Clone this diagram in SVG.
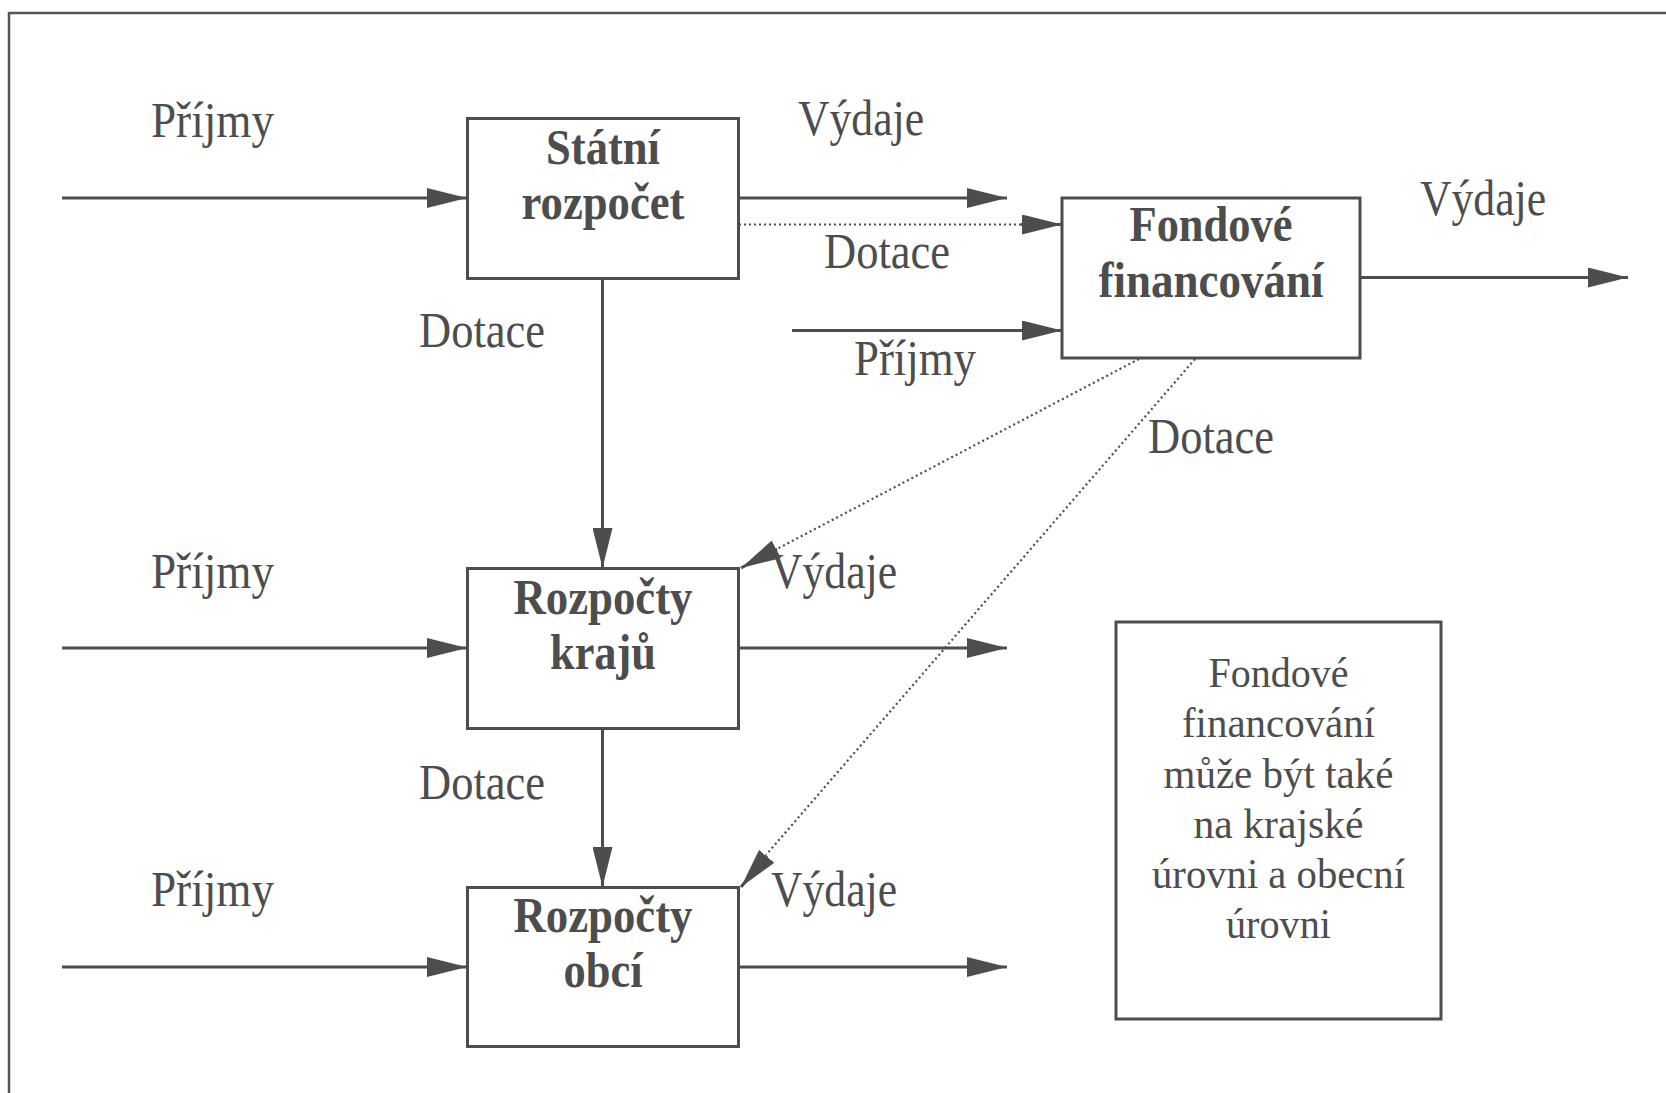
<svg xmlns="http://www.w3.org/2000/svg" width="1666" height="1093" viewBox="0 0 1666 1093">
<style>
.box{fill:#fff;stroke:#4d4d4d;stroke-width:3}
.ln{stroke:#4d4d4d;stroke-width:3;fill:none}
.dot{stroke:#4d4d4d;stroke-width:2.2;fill:none;stroke-dasharray:2 3}
.t{font-family:"Liberation Serif","Times New Roman",serif;fill:#4d4d4d}
.lab{font-size:50px}
.bold{font-size:50px;font-weight:bold;text-anchor:middle}
.note{font-size:42px;text-anchor:middle}
</style>
<defs>
<marker id="ah" markerUnits="userSpaceOnUse" markerWidth="40" markerHeight="20" refX="40" refY="10" orient="auto">
<path d="M0,0 L40,10 L0,20 z" fill="#4d4d4d"/>
</marker>
</defs>
<rect x="0" y="0" width="1666" height="1093" fill="#fff"/>
<path d="M9,1093 V13 H1666" fill="none" stroke="#555" stroke-width="2.5"/>

<g id="connectors">
<line class="ln" x1="62" y1="198" x2="467" y2="198" marker-end="url(#ah)"/>
<line class="ln" x1="739" y1="198" x2="1007" y2="198" marker-end="url(#ah)"/>
<line class="dot" x1="739" y1="224.5" x2="1022" y2="224.5"/>
<line class="ln" x1="1021" y1="224.5" x2="1062" y2="224.5" stroke-width="0" marker-end="url(#ah)"/>
<line class="ln" x1="792" y1="330.5" x2="1062" y2="330.5" marker-end="url(#ah)"/>
<line class="ln" x1="1360" y1="277.5" x2="1628" y2="277.5" marker-end="url(#ah)"/>
<line class="ln" x1="602.5" y1="278" x2="602.5" y2="568" marker-end="url(#ah)"/>
<line class="ln" x1="62" y1="648" x2="467" y2="648" marker-end="url(#ah)"/>
<line class="ln" x1="739" y1="648" x2="1007" y2="648" marker-end="url(#ah)"/>
<line class="ln" x1="602.5" y1="729" x2="602.5" y2="887" marker-end="url(#ah)"/>
<line class="ln" x1="62" y1="967" x2="467" y2="967" marker-end="url(#ah)"/>
<line class="ln" x1="739" y1="967" x2="1007" y2="967" marker-end="url(#ah)"/>
<line class="dot" x1="1139" y1="359" x2="775" y2="550"/>
<line class="ln" x1="777" y1="549" x2="741" y2="568" stroke-width="0" marker-end="url(#ah)"/>
<line class="dot" x1="1195" y1="359" x2="766" y2="855"/>
<line class="ln" x1="767" y1="856" x2="741" y2="887" stroke-width="0" marker-end="url(#ah)"/>
</g>

<g id="node-statni">
<rect class="box" x="467.5" y="118.5" width="271" height="160"/>
<text class="t bold" x="603" y="164" textLength="114" lengthAdjust="spacingAndGlyphs">Státní</text>
<text class="t bold" x="603" y="219" textLength="163" lengthAdjust="spacingAndGlyphs">rozpočet</text>
</g>
<g id="node-fondove">
<rect class="box" x="1062" y="198" width="298" height="160"/>
<text class="t bold" x="1211" y="241" textLength="163" lengthAdjust="spacingAndGlyphs">Fondové</text>
<text class="t bold" x="1211" y="297" textLength="225" lengthAdjust="spacingAndGlyphs">financování</text>
</g>
<g id="node-kraje">
<rect class="box" x="467.5" y="568.5" width="271" height="160"/>
<text class="t bold" x="603" y="614" textLength="179" lengthAdjust="spacingAndGlyphs">Rozpočty</text>
<text class="t bold" x="603" y="669" textLength="106" lengthAdjust="spacingAndGlyphs">krajů</text>
</g>
<g id="node-obce">
<rect class="box" x="467.5" y="887.5" width="271" height="159"/>
<text class="t bold" x="603" y="932" textLength="179" lengthAdjust="spacingAndGlyphs">Rozpočty</text>
<text class="t bold" x="603" y="987" textLength="79" lengthAdjust="spacingAndGlyphs">obcí</text>
</g>
<g id="node-note">
<rect class="box" x="1116" y="622" width="325" height="397"/>
<text class="t note" x="1278.5" y="687" textLength="140" lengthAdjust="spacingAndGlyphs">Fondové</text>
<text class="t note" x="1278.5" y="737" textLength="193" lengthAdjust="spacingAndGlyphs">financování</text>
<text class="t note" x="1278.5" y="788" textLength="230" lengthAdjust="spacingAndGlyphs">může být také</text>
<text class="t note" x="1278.5" y="838" textLength="170" lengthAdjust="spacingAndGlyphs">na krajské</text>
<text class="t note" x="1278.5" y="888" textLength="253" lengthAdjust="spacingAndGlyphs">úrovni a obecní</text>
<text class="t note" x="1278.5" y="938" textLength="105" lengthAdjust="spacingAndGlyphs">úrovni</text>
</g>

<g id="labels">
<text class="t lab" x="151" y="137" textLength="123" lengthAdjust="spacingAndGlyphs">Příjmy</text>
<text class="t lab" x="798" y="135" textLength="126" lengthAdjust="spacingAndGlyphs">Výdaje</text>
<text class="t lab" x="824" y="268" textLength="126" lengthAdjust="spacingAndGlyphs">Dotace</text>
<text class="t lab" x="419" y="347" textLength="126" lengthAdjust="spacingAndGlyphs">Dotace</text>
<text class="t lab" x="854" y="375" textLength="122" lengthAdjust="spacingAndGlyphs">Příjmy</text>
<text class="t lab" x="1420" y="215" textLength="126" lengthAdjust="spacingAndGlyphs">Výdaje</text>
<text class="t lab" x="1148" y="453" textLength="126" lengthAdjust="spacingAndGlyphs">Dotace</text>
<text class="t lab" x="151" y="588" textLength="123" lengthAdjust="spacingAndGlyphs">Příjmy</text>
<text class="t lab" x="771" y="588" textLength="126" lengthAdjust="spacingAndGlyphs">Výdaje</text>
<text class="t lab" x="419" y="799" textLength="126" lengthAdjust="spacingAndGlyphs">Dotace</text>
<text class="t lab" x="151" y="906" textLength="123" lengthAdjust="spacingAndGlyphs">Příjmy</text>
<text class="t lab" x="771" y="906" textLength="126" lengthAdjust="spacingAndGlyphs">Výdaje</text>
</g>
</svg>
